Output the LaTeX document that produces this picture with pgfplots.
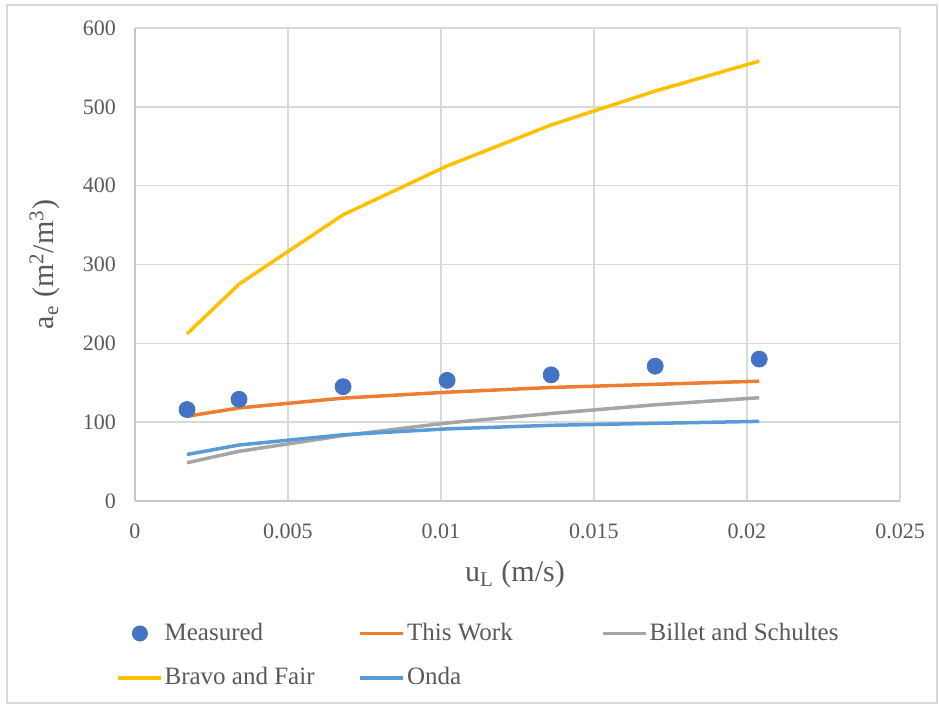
\documentclass[border=0pt]{standalone}
\usepackage{pgfplots}
\pgfplotsset{compat=1.18}
\usepackage{fontspec}
\setmainfont{Liberation Serif}
\definecolor{cMeas}{HTML}{4472C4}
\definecolor{cWork}{HTML}{ED7D31}
\definecolor{cBill}{HTML}{A5A5A5}
\definecolor{cBrav}{HTML}{FFC000}
\definecolor{cOnda}{HTML}{5B9BD5}
\definecolor{cGrid}{HTML}{D9D9D9}
\definecolor{cTxt}{HTML}{595959}
\begin{document}
\begin{tikzpicture}
\useasboundingbox (-67.5pt,250.5pt) rectangle (402pt,-102pt);
\draw[cGrid, line width=0.75pt] (-64pt,248pt) rectangle (401pt,-101pt);
\begin{axis}[
  at={(0pt,0pt)}, anchor=south west,
  scale only axis,
  width=382.5pt, height=236.5pt,
  xmin=0, xmax=0.025, ymin=0, ymax=600,
  xtick={0,0.005,0.01,0.015,0.02,0.025},
  xticklabels={0,0.005,0.01,0.015,0.02,0.025},
  scaled x ticks=false,
  ytick={0,100,200,300,400,500,600},
  /pgf/number format/assume math mode=true,
  major tick length=0pt,
  grid=major,
  major grid style={cGrid, line width=0.75pt},
  axis line style={cGrid!80!gray, line width=0.75pt},
  axis x line*=bottom, axis y line*=left,
  x axis line style={-}, y axis line style={-},
  tick label style={font=\fontsize{11}{13}\selectfont, text=cTxt},
  xticklabel style={yshift=-8pt},
  yticklabel style={xshift=-6pt},
  every axis x label/.style={at={(axis description cs:0.4967,-0.156)}, anchor=center, font=\fontsize{15}{18}\selectfont, text=cTxt},
  every axis y label/.style={at={(axis description cs:-0.118,0.5)}, rotate=90, anchor=center, font=\fontsize{15}{18}\selectfont, text=cTxt},
  xlabel={u\textsubscript{L} (m/s)},
  ylabel={a\textsubscript{e} (m\textsuperscript{2}/m\textsuperscript{3})},
  legend columns=3,
  legend cell align=left,
  legend style={at={(axis description cs:-0.033,-0.245)}, anchor=north west, draw=none, fill=none,
    font=\fontsize{12.5}{15}\selectfont, text=cTxt,
    nodes={inner sep=1pt}, row sep=10pt,
    /tikz/every even column/.append style={column sep=0pt}},
  legend image code/.code={\draw[line width=1.75pt] (0pt,0pt) -- (21.5pt,0pt);},
]
\addplot[only marks, mark=*, mark size=4pt, color=cMeas, mark options={fill=cMeas, draw=cMeas},
  legend image code/.code={\path[draw=none] (0pt,0pt) -- (21.5pt,0pt); \fill[cMeas, draw=none] (11pt,0pt) circle (4pt);}]
  coordinates {(0.0017,116) (0.0034,129) (0.0068,145) (0.0102,153) (0.0136,160) (0.0170,171) (0.0204,180)};
\addlegendentry{\makebox[96pt][l]{Measured}}
\addplot[color=cWork, line width=1.75pt, no marks]
  coordinates {(0.0017,107.5) (0.0034,118) (0.0068,130.5) (0.0102,138) (0.0136,144) (0.0170,148) (0.0204,152)};
\addlegendentry{\makebox[96pt][l]{This Work}}
\addplot[color=cBill, line width=1.75pt, no marks]
  coordinates {(0.0017,48.5) (0.0034,63) (0.0068,83) (0.0102,99) (0.0136,111) (0.0170,122) (0.0204,131)};
\addlegendentry{\makebox[96pt][l]{Billet and Schultes}}
\addplot[color=cBrav, line width=1.75pt, no marks]
  coordinates {(0.0017,212) (0.0034,275) (0.0068,363) (0.0102,425) (0.0136,477) (0.0170,520) (0.0204,558)};
\addlegendentry{\makebox[96pt][l]{Bravo and Fair}}
\addplot[color=cOnda, line width=1.75pt, no marks]
  coordinates {(0.0017,59) (0.0034,71) (0.0068,84) (0.0102,91.5) (0.0136,96) (0.0170,98.5) (0.0204,101)};
\addlegendentry{\makebox[96pt][l]{Onda}}
\end{axis}
\end{tikzpicture}
\end{document}
